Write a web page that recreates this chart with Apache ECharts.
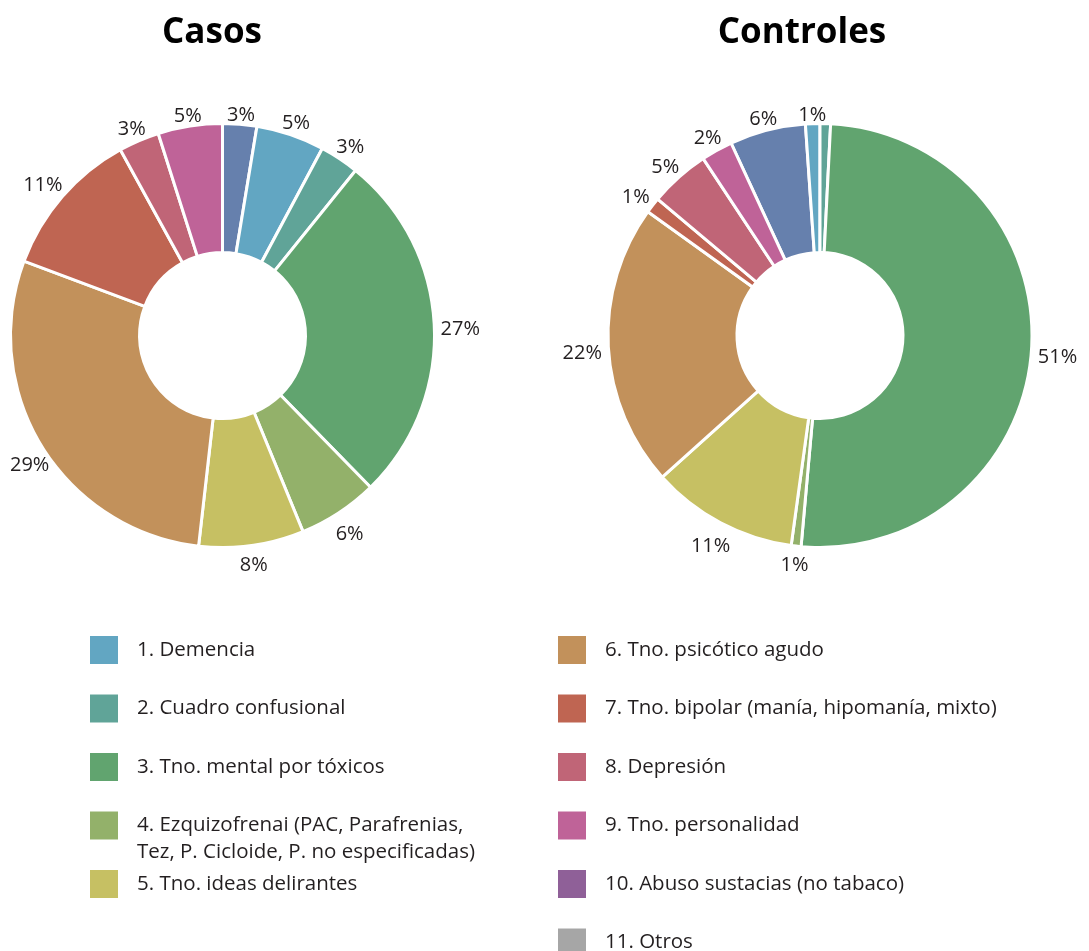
<!DOCTYPE html>
<html><head><meta charset="utf-8">
<script src="https://cdn.jsdelivr.net/npm/echarts@6/dist/echarts.min.js"></script>
<style>html,body{margin:0;padding:0;background:#fff}#c{width:1089px;height:951px}</style>
</head><body><div id="c"></div>
<script>
// ---- data ----
const categories = ['Sin leyenda', '1. Demencia', '2. Cuadro confusional', '3. Tno. mental por tóxicos',
  '4. Ezquizofrenai (PAC, Parafrenias, Tez, P. Cicloide, P. no especificadas)', '5. Tno. ideas delirantes',
  '6. Tno. psicótico agudo', '7. Tno. bipolar (manía, hipomanía, mixto)', '8. Depresión',
  '9. Tno. personalidad', '10. Abuso sustacias (no tabaco)', '11. Otros'];
const legendLabels = ['', '1. Demencia', '2. Cuadro confusional', '3. Tno. mental por tóxicos',
  '4. Ezquizofrenai (PAC, Parafrenias,\nTez, P. Cicloide, P. no especificadas)', '5. Tno. ideas delirantes',
  '6. Tno. psicótico agudo', '7. Tno. bipolar (manía, hipomanía, mixto)', '8. Depresión',
  '9. Tno. personalidad', '10. Abuso sustacias (no tabaco)', '11. Otros'];
const colors = ['#6680ad', '#62a6c2', '#60a498', '#61a46f', '#93b16a', '#c6c063',
  '#c2915b', '#bf6552', '#c06577', '#bf6398', '#8f6098', '#a6a6a6'];
const casosValues = [2.6, 5.2, 3.0, 26.9, 6.1, 8.0, 28.9, 11.3, 3.1, 4.9, 0, 0];
const controlesValues = [5.8, 1.1, 0.8, 50.7, 0.75, 11.2, 21.6, 1.2, 4.6, 2.4, 0, 0];
const chartTitles = ['Casos', 'Controles'];
const controlesHiddenLabels = ['2. Cuadro confusional'];

// ---- layout ----
const W = 1089;
const R0 = 83, R = 212;
const txt = '#231f20';
const font = 'Open Sans';

function makeLayout(values, center, startAngle) {
  const sum = values.reduce((a, b) => a + b, 0);
  let cum = 0;
  const mids = values.map(v => { const m = (90 - startAngle) + 360 * (cum + v / 2) / sum; cum += v; return m; });
  return function (params) {
    const th = mids[params.dataIndex] * Math.PI / 180;
    const s = Math.sin(th), c = Math.cos(th);
    const w = params.labelRect.width, h = 14;
    const half = w / 2 * Math.abs(s) + h / 2 * Math.abs(c);
    const d = R + 6 + half;
    let x = center[0] + d * s, y = center[1] - d * c + 5;
    x = Math.max(x, w / 2 + 10);
    x = Math.min(x, W - w / 2 - 4);
    return { x: x, y: y, align: 'center', verticalAlign: 'middle' };
  };
}

function pieSeries(name, values, center, startAngle, hidden) {
  return {
    type: 'pie', name: name, center: center, radius: [R0, R], startAngle: startAngle, clockwise: true,
    avoidLabelOverlap: false, animation: false,
    itemStyle: { borderColor: '#fff', borderWidth: 3 },
    data: categories.map((n, i) => ({
      name: n, value: values[i],
      itemStyle: { color: colors[i], borderWidth: values[i] > 0 ? 3 : 0 },
      label: { show: values[i] > 0 && hidden.indexOf(n) < 0 }
    })),
    label: {
      show: true, position: 'outside', formatter: p => Math.round(p.percent) + '%',
      fontFamily: font, fontSize: 20, color: txt
    },
    labelLine: { show: false, length: 4, length2: 0 },
    emphasis: { disabled: true },
    labelLayout: makeLayout(values, center, startAngle)
  };
}

const legends = [];
for (let i = 1; i < categories.length; i++) {
  const col = i <= 5 ? 0 : 1;
  const row = col ? i - 6 : i - 1;
  const iconTop = 636 + row * 58.5;
  const multi = legendLabels[i].indexOf('\n') >= 0;
  const lh = 27;
  const textH = multi ? lh * 3 : 0;
  legends.push({
    data: [categories[i]], left: col ? 558 : 90,
    top: multi ? iconTop - (textH - 28) / 2 : iconTop,
    orient: 'vertical', itemWidth: 28, itemHeight: 28, icon: 'rect', padding: 0,
    selectedMode: false, itemStyle: { borderWidth: 0 },
    formatter: () => (multi ? '\n' : '') + legendLabels[i],
    textStyle: {
      fontFamily: font, fontSize: 20.5, color: txt,
      lineHeight: multi ? lh : undefined,
      padding: [0, 0, 0, 14]
    }
  });
}

const chart = echarts.init(document.getElementById('c'), null, { renderer: 'canvas' });
chart.setOption({
  backgroundColor: '#fff',
  animation: false,
  title: [
    { text: chartTitles[0], left: 207, top: 11, textAlign: 'center',
      textStyle: { fontFamily: font, fontWeight: 'bold', fontSize: 35, color: '#000' } },
    { text: chartTitles[1], left: 797, top: 11, textAlign: 'center',
      textStyle: { fontFamily: font, fontWeight: 'bold', fontSize: 35, color: '#000' } }
  ],
  legend: legends,
  series: [
    pieSeries('Casos', casosValues, [222.5, 335.5], 90, []),
    pieSeries('Controles', controlesValues, [820, 335.5], 114.8, controlesHiddenLabels)
  ]
});
</script>
</body></html>
